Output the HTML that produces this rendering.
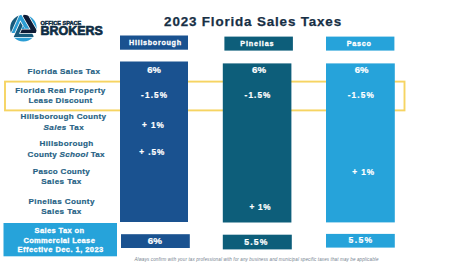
<!DOCTYPE html>
<html><head><meta charset="utf-8">
<style>
html,body{margin:0;padding:0;background:#fff;width:474px;height:266px;overflow:hidden}
svg{display:block}
text{font-family:"Liberation Sans",sans-serif;font-weight:bold}
.lab{fill:#255f84;font-size:8.1px;stroke:#255f84;stroke-width:0.2}
.val{fill:#fff;font-size:8.2px;stroke:#fff;stroke-width:0.22}
</style></head><body>
<svg width="474" height="266" viewBox="0 0 474 266">
<rect width="474" height="266" fill="#fff"/>
<!-- yellow box -->
<rect x="5" y="81.6" width="399.5" height="28.8" fill="none" stroke="#f6d462" stroke-width="1.9"/>
<!-- logo -->
<defs><clipPath id="lc"><circle cx="23.4" cy="28.1" r="13.3"/></clipPath></defs>
<g clip-path="url(#lc)">
<polygon points="11.55,33.05 20.39,13.19 29.35,28.70 25.19,28.70 20.31,20.25 14.61,33.05" fill="#2b9dd4"/>
<polygon points="25.38,10.72 38.27,33.05 20.20,33.05 21.80,29.45 30.65,29.45 22.96,16.14" fill="#0e1b36"/>
<polygon points="34.14,37.00 13.68,37.00 20.40,21.90 22.63,25.75 19.04,33.80 32.30,33.80" fill="#175a7c"/>
<polygon points="23.05,25.73 21.56,29.07 24.98,29.07" fill="#2b9dd4"/>
<polygon points="39.41,-31.37 -9.40,78.25 -64.21,53.85 -15.40,-55.78" fill="#175a7c"/>
<polygon points="62.48,73.49 2.48,-30.44 54.44,-60.44 114.44,43.49" fill="#2b9dd4"/>
<polygon points="-37.00,37.75 83.00,37.75 83.00,97.75 -37.00,97.75" fill="#2b9dd4"/>
</g>
<text x="40.5" y="24.8" font-size="4.7" fill="#0f2d44" stroke="#0f2d44" stroke-width="0.4" textLength="40.8" lengthAdjust="spacingAndGlyphs">OFFICE SPACE</text>
<text x="40.6" y="35.1" font-size="12.1" fill="#0f2d44" stroke="#0f2d44" stroke-width="0.65" stroke-linejoin="round" textLength="62.3" lengthAdjust="spacingAndGlyphs">BROKERS</text>
<!-- title -->
<text x="164.1" y="26.4" font-size="13.4" fill="#172f45" stroke="#172f45" stroke-width="0.25" textLength="177" lengthAdjust="spacing">2023 Florida Sales Taxes</text>
<!-- headers -->
<rect x="120" y="35.5" width="68" height="14.2" fill="#1a5290"/>
<rect x="224.4" y="36.6" width="68.5" height="14" fill="#0d5e7a"/>
<rect x="326" y="36.6" width="68.4" height="14" fill="#26a3da"/>
<g class="val" style="font-size:7.2px;stroke-width:0.3">
<text x="129.1" y="45.2" textLength="52" lengthAdjust="spacing">Hillsborough</text>
<text x="240.2" y="46.3" textLength="33.4" lengthAdjust="spacing">Pinellas</text>
<text x="346.8" y="46.3" textLength="24.2" lengthAdjust="spacing">Pasco</text>
</g>
<!-- columns -->
<rect x="120" y="61.5" width="68" height="160.5" fill="#1a5290"/>
<rect x="222.8" y="63.4" width="68.6" height="159.1" fill="#0d5e7a"/>
<rect x="326" y="63.4" width="68.8" height="159" fill="#26a3da"/>
<!-- bottom boxes -->
<rect x="3.5" y="223" width="113.5" height="33.3" fill="#26a3da"/>
<rect x="121" y="234.2" width="68.8" height="13.8" fill="#1a5290"/>
<rect x="222.8" y="234.7" width="69" height="14.7" fill="#0d5e7a"/>
<rect x="326" y="233.9" width="68.8" height="13.7" fill="#26a3da"/>
<!-- labels -->
<g class="lab" text-anchor="middle">
<text x="63.8" y="74.1" textLength="72.4" lengthAdjust="spacing">Florida Sales Tax</text>
<text x="60.3" y="92.9" textLength="90.1" lengthAdjust="spacing">Florida Real Property</text>
<text x="60.4" y="102.9" textLength="63.7" lengthAdjust="spacing">Lease Discount</text>
<text x="63.3" y="119.3" textLength="85.5" lengthAdjust="spacing">Hillsborough County</text>
<text x="63.6" y="129.8" textLength="40.2" lengthAdjust="spacing"><tspan font-style="italic">Sales</tspan> Tax</text>
<text x="66.4" y="146.4" textLength="53.8" lengthAdjust="spacing">Hillsborough</text>
<text x="66.1" y="157.0" textLength="77" lengthAdjust="spacing">County <tspan font-style="italic">School</tspan> Tax</text>
<text x="61.3" y="174.0" textLength="56.9" lengthAdjust="spacing">Pasco County</text>
<text x="61.3" y="184.1" textLength="40.1" lengthAdjust="spacing">Sales Tax</text>
<text x="61.5" y="203.9" textLength="65.8" lengthAdjust="spacing">Pinellas County</text>
<text x="61.3" y="214.0" textLength="40.1" lengthAdjust="spacing">Sales Tax</text>
</g>
<g class="val" text-anchor="middle">
<g style="font-size:7.5px;stroke-width:0.3">
<text x="59.3" y="233" textLength="49.6" lengthAdjust="spacing">Sales Tax on</text>
<text x="59.1" y="242.7" textLength="71.4" lengthAdjust="spacing">Commercial Lease</text>
<text x="60.4" y="252.2" textLength="85.6" lengthAdjust="spacing">Effective Dec. 1, 2023</text>
</g>
<!-- values -->
<text x="154.1" y="73.2" textLength="13.6" lengthAdjust="spacingAndGlyphs">6%</text>
<text x="154.1" y="97.6" textLength="26.0" lengthAdjust="spacing">-1.5%</text>
<text x="152.9" y="128.2" textLength="21.6" lengthAdjust="spacing">+ 1%</text>
<text x="151.7" y="155.1" textLength="25.0" lengthAdjust="spacing">+ .5%</text>
<text x="259.1" y="73.2" textLength="14.0" lengthAdjust="spacingAndGlyphs">6%</text>
<text x="257.5" y="97.6" textLength="25.8" lengthAdjust="spacing">-1.5%</text>
<text x="260.0" y="209.6" textLength="21.0" lengthAdjust="spacing">+ 1%</text>
<text x="361.5" y="73.2" textLength="13.7" lengthAdjust="spacingAndGlyphs">6%</text>
<text x="360.7" y="97.6" textLength="26.0" lengthAdjust="spacing">-1.5%</text>
<text x="363.2" y="174.7" textLength="21.7" lengthAdjust="spacing">+ 1%</text>
<text x="154.9" y="243.7" style="font-size:8.8px" textLength="14.2" lengthAdjust="spacingAndGlyphs">6%</text>
<text x="255.8" y="245.4" style="font-size:8.6px" textLength="23.0" lengthAdjust="spacing">5.5%</text>
<text x="360.4" y="243.0" style="font-size:8.6px" textLength="23.6" lengthAdjust="spacing">5.5%</text>
</g>
<text x="134.4" y="260.8" font-size="4.5" fill="#75838f" font-style="italic" style="font-weight:normal" textLength="244" lengthAdjust="spacing">Always confirm with your tax professional with for any business and municipal specific taxes that may be applicable</text>
</svg>
</body></html>
